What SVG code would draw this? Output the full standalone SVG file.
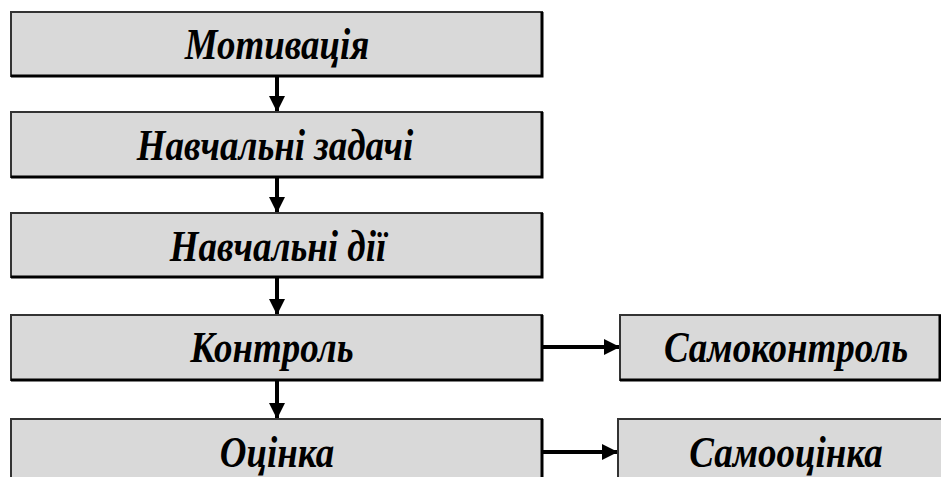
<svg xmlns="http://www.w3.org/2000/svg" width="941" height="477" viewBox="0 0 941 477">
<style>
.box{fill:#d9d9d9;stroke:#333;stroke-width:2}
.sh{fill:none;stroke:#000;stroke-width:3}
.t{font-family:'Liberation Serif','DejaVu Serif',serif;font-weight:700;font-style:italic;font-size:44px;fill:#000;text-anchor:middle}
.c{stroke:#000;stroke-width:4;fill:none}
</style>
<defs>
<marker id="ah" markerUnits="userSpaceOnUse" markerWidth="16" markerHeight="16" refX="16" refY="8" orient="auto">
<path d="M0,0 L16,8 L0,16 Z" fill="#000"/>
</marker>
</defs>
<rect width="941" height="477" fill="#fff"/>
<g id="connectors">
<line class="c" x1="277" y1="77" x2="277" y2="112" marker-end="url(#ah)"/>
<line class="c" x1="277" y1="178" x2="277" y2="213" marker-end="url(#ah)"/>
<line class="c" x1="277" y1="278" x2="277" y2="315" marker-end="url(#ah)"/>
<line class="c" x1="277" y1="381" x2="277" y2="419" marker-end="url(#ah)"/>
<line class="c" x1="543" y1="347" x2="620" y2="347" marker-end="url(#ah)"/>
<line class="c" x1="543" y1="452" x2="618" y2="452" marker-end="url(#ah)"/>
</g>
<g id="motyvatsiia">
<rect class="box" x="11" y="12" width="531" height="64"/>
<path class="sh" d="M542,12 V76 H11"/>
<text class="t" transform="translate(277,59) scale(0.84,1)">Мотивація</text>
</g>
<g id="navchalni-zadachi">
<rect class="box" x="11" y="112" width="531" height="65"/>
<path class="sh" d="M542,112 V177 H11"/>
<text class="t" transform="translate(275,160) scale(0.84,1)">Навчальні задачі</text>
</g>
<g id="navchalni-dii">
<rect class="box" x="11" y="213" width="531" height="64"/>
<path class="sh" d="M542,213 V277 H11"/>
<text class="t" transform="translate(278,261) scale(0.84,1)">Навчальні дії</text>
</g>
<g id="kontrol">
<rect class="box" x="11" y="315" width="531" height="65"/>
<path class="sh" d="M542,315 V380 H11"/>
<text class="t" transform="translate(272,362) scale(0.84,1)">Контроль</text>
</g>
<g id="otsinka">
<rect class="box" x="11" y="419" width="531" height="70"/>
<path class="sh" d="M542,419 V489"/>
<text class="t" transform="translate(277,467) scale(0.84,1)">Оцінка</text>
</g>
<g id="samokontrol">
<rect class="box" x="620" y="315" width="320" height="65"/>
<path class="sh" d="M940,315 V380 H620"/>
<text class="t" transform="translate(786,362) scale(0.84,1)">Самоконтроль</text>
</g>
<g id="samootsinka">
<rect class="box" x="618" y="419" width="330" height="70"/>
<text class="t" transform="translate(786,467) scale(0.84,1)">Самооцінка</text>
</g>
</svg>
